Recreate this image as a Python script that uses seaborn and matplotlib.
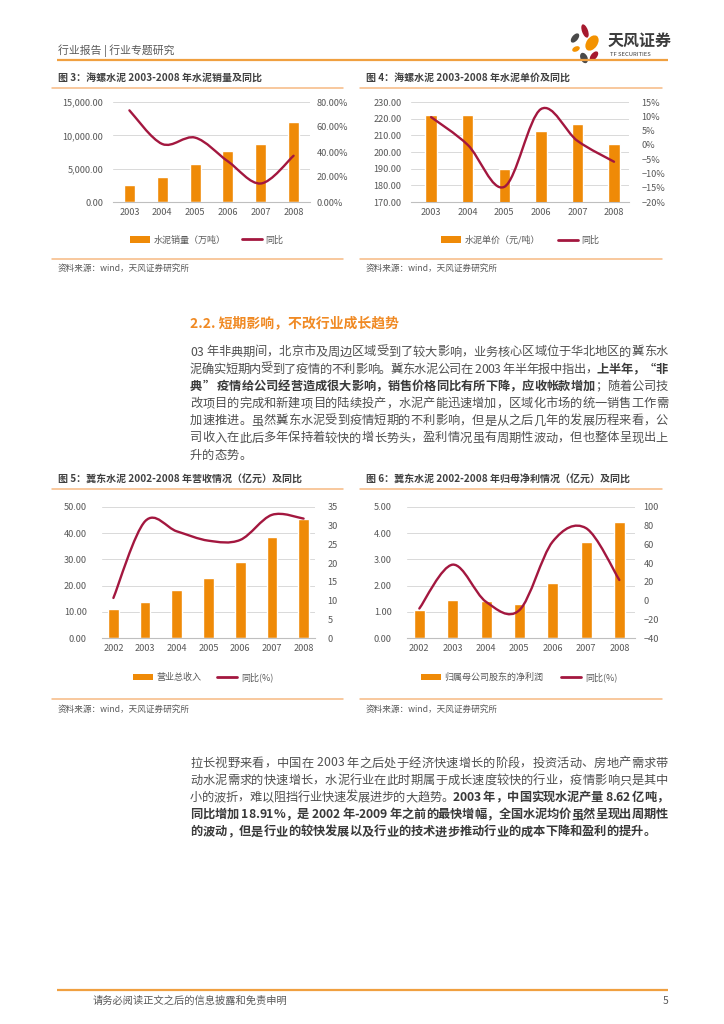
import numpy as np
import matplotlib
matplotlib.use("Agg")
import matplotlib.pyplot as plt
import seaborn as sns
from matplotlib.path import Path
from matplotlib.patches import PathPatch, Patch, Ellipse
from matplotlib.lines import Line2D
from matplotlib.ticker import StrMethodFormatter

# 数据：海螺水泥 2003-2008
conch_years = ["2003", "2004", "2005", "2006", "2007", "2008"]
conch_sales = [2550, 3725, 5765, 7600, 8775, 11990]          # 万吨
conch_sales_yoy = [73.3, 46.4, 51.5, 32.5, 14.8, 37.0]         # %
conch_price = [222.2, 222.2, 190.0, 212.9, 216.9, 204.6]       # 元/吨
conch_price_yoy = [9.7, 0.0, -14.7, 12.5, 1.4, -5.9]           # %

# 数据：冀东水泥 2002-2008
jidong_years = ["2002", "2003", "2004", "2005", "2006", "2007", "2008"]
jidong_revenue = [10.9, 13.9, 18.5, 22.9, 29.0, 38.6, 45.5]    # 亿元
jidong_revenue_yoy = [10.7, 31.2, 28.5, 26.0, 26.2, 32.9, 31.9]
jidong_profit = [1.06, 1.44, 1.42, 1.29, 2.10, 3.67, 4.44]     # 亿元
jidong_profit_yoy = [-8.5, 38.4, -1.3, -10.3, 63.0, 77.4, 22.0]

BAR = "#EF8A07"
LINE = "#A3173F"
RULE = "#F7B983"
TICK = "#595959"

sns.set_theme(style="white")
plt.rcParams["font.family"] = ["Noto Sans CJK SC", "DejaVu Sans"]

W, H = 724, 1024
fig = plt.figure(figsize=(W / 100, H / 100), dpi=100)
page = fig.add_axes([0, 0, 1, 1])
page.set_xlim(0, W)
page.set_ylim(H, 0)
page.axis("off")


def smooth_path(xs, ys):
    # 平滑曲线（类似 Excel 的平滑线）
    pts = np.column_stack([xs, ys]).astype(float)
    n = len(pts)
    verts = [pts[0]]
    codes = [Path.MOVETO]
    for i in range(n - 1):
        p0 = pts[max(i - 1, 0)]
        p1 = pts[i]
        p2 = pts[i + 1]
        p3 = pts[min(i + 2, n - 1)]
        verts += [p1 + (p2 - p0) / 6, p2 - (p3 - p1) / 6, p2]
        codes += [Path.CURVE4] * 3
    return Path(verts, codes)


def draw_chart(box, years, bars, yoy, width, xlim, left, left_fmt, right, right_fmt,
               pads, labels, legend_at, colspace):
    x0, yt, x1, yb = box
    ax = fig.add_axes([x0 / W, 1 - yb / H, (x1 - x0) / W, (yb - yt) / H])
    ax.set_facecolor("none")
    sns.barplot(x=years, y=bars, color=BAR, width=width, saturation=1,
                errorbar=None, ax=ax)
    ax.set_xlabel("")
    ax.set_ylabel("")
    ax.set_ylim(left[0], left[1])
    ax.set_yticks(np.arange(left[0], left[1] + left[2] / 2, left[2]))
    ax.yaxis.set_major_formatter(StrMethodFormatter(left_fmt))
    ax.yaxis.grid(True, color="#D9D9D9", lw=0.7)
    ax.set_axisbelow(True)
    for s in ["top", "left", "right"]:
        ax.spines[s].set_visible(False)
    ax.spines["bottom"].set_color("#BFBFBF")
    ax.spines["bottom"].set_linewidth(0.8)
    ax.tick_params(axis="y", length=0, labelsize=6.6, labelcolor=TICK, pad=pads[0])
    ax.tick_params(axis="x", length=0, labelsize=6.6, labelcolor=TICK, pad=4)

    ax2 = ax.twinx()
    ax2.set_ylim(right[0], right[1])
    ax2.set_yticks(np.arange(right[0], right[1] + right[2] / 2, right[2]))
    ax2.yaxis.set_major_formatter(StrMethodFormatter(right_fmt))
    ax2.grid(False)
    for s in ax2.spines.values():
        s.set_visible(False)
    ax2.tick_params(axis="y", length=0, labelsize=6.6, labelcolor=TICK, pad=pads[1])
    ax2.add_patch(PathPatch(smooth_path(np.arange(len(yoy)), yoy), facecolor="none",
                            edgecolor=LINE, lw=1.7, capstyle="round", joinstyle="round"))
    ax.set_xlim(*xlim)

    handles = [Patch(facecolor=BAR, edgecolor="none"), Line2D([0], [0], color=LINE, lw=2)]
    ax.legend(handles=handles, labels=labels, loc="center", bbox_to_anchor=legend_at,
              bbox_transform=page.transData, ncol=2, frameon=False, fontsize=6.5,
              handlelength=2.2, handletextpad=0.4, columnspacing=colspace,
              labelcolor=TICK)
    return ax


# 页眉
page.text(58, 51, "行业报告 | 行业专题研究", fontsize=7.8, color="#595959", va="center")
page.plot([57, 668], [60, 60], color="#F0A040", lw=1.6, solid_capstyle="butt")
for (cx, cy, w, h, ang, c) in [(585, 31, 6, 14, -20, "#A6192E"), (592, 43, 11, 17, 35, "#F39200"),
                               (575, 38, 6, 11, 40, "#4A4A4A"), (576, 49, 8, 5, -25, "#F39200"),
                               (584, 58, 7, 11, -25, "#4A4A4A"), (594, 56, 6, 11, 40, "#A6192E")]:
    page.add_patch(Ellipse((cx, cy), w, h, angle=ang, color=c, lw=0))
page.text(608, 41, "天风证券", fontsize=11.5, fontweight="bold", color="#3C3C3C", va="center")
page.text(610, 54, "TF SECURITIES", fontsize=4.2, color="#3C3C3C", va="center")

# 图表标题、分隔线、资料来源
titles = [(58, 78, "图 3：海螺水泥 2003-2008 年水泥销量及同比", 52, 343, 88, 259, 268),
          (366, 78, "图 4：海螺水泥 2003-2008 年水泥单价及同比", 360, 662, 88, 259, 268),
          (58, 480, "图 5：冀东水泥 2002-2008 年营收情况（亿元）及同比", 52, 343, 489, 699, 709),
          (366, 480, "图 6：冀东水泥 2002-2008 年归母净利情况（亿元）及同比", 360, 662, 489, 699, 709)]
for tx, ty, title, lx0, lx1, ly_top, ly_bot, sy in titles:
    page.text(tx, ty, title, fontsize=7.2, fontweight="bold", color="#404040", va="center")
    page.plot([lx0, lx1], [ly_top, ly_top], color=RULE, lw=1.1)
    page.plot([lx0, lx1], [ly_bot, ly_bot], color=RULE, lw=1.1)
    page.text(tx, sy, "资料来源：wind，天风证券研究所", fontsize=6.2, color="#595959", va="center")

draw_chart((113, 102, 310, 202), conch_years, conch_sales, conch_sales_yoy, 0.34, (-0.5, 5.5),
           (0, 15000, 5000), "{x:,.2f}", (0, 80, 20), "{x:.2f}%", (7, 5),
           ["水泥销量（万吨）", "同比"], (207, 240), 1.8)
draw_chart((411, 102, 629, 202), conch_years, conch_price, conch_price_yoy, 0.31, (-0.55, 5.41),
           (170, 230, 10), "{x:.2f}", (-20, 15, 5), "{x:.0f}%", (7, 9),
           ["水泥单价（元/吨）", "同比"], (520, 240), 2.0)
draw_chart((102, 507, 315, 638), jidong_years, jidong_revenue, jidong_revenue_yoy, 0.34, (-0.36, 6.36),
           (0, 50, 10), "{x:.2f}", (0, 35, 5), "{x:.0f}", (11, 9),
           ["营业总收入", "同比(%)"], (203, 677), 1.8)
draw_chart((407, 507, 635, 638), jidong_years, jidong_profit, jidong_profit_yoy, 0.33, (-0.37, 6.47),
           (0, 5, 1), "{x:.2f}", (-40, 100, 20), "{x:.0f}", (11, 6),
           ["归属母公司股东的净利润", "同比(%)"], (519, 677), 2.0)

# 正文（两端对齐）
renderer = fig.canvas.get_renderer()
SIZE = 8.8
_adv = {}


def adv_width(ch, weight):
    key = (ch, weight)
    if key not in _adv:
        t1 = page.text(0, 0, "一" + ch + "一", fontsize=SIZE, fontweight=weight)
        t2 = page.text(0, 0, "一一", fontsize=SIZE, fontweight=weight)
        _adv[key] = t1.get_window_extent(renderer).width - t2.get_window_extent(renderer).width
        t1.remove()
        t2.remove()
    return _adv[key]


def draw_line(y, runs, x0=190, x1=668, justify=True):
    chars = [(ch, "bold" if bold else "normal") for s, bold in runs for ch in s]
    widths = [adv_width(ch, wt) for ch, wt in chars]
    gap = (x1 - x0 - sum(widths)) / (len(chars) - 1) if justify else 0
    x = x0
    for (ch, wt), w in zip(chars, widths):
        if ch != " ":
            page.text(x, y, ch, fontsize=SIZE, fontweight=wt,
                      color="#3A3A3A" if wt == "bold" else "#505050", va="center", ha="left")
        x += w + gap


page.text(190, 323, "2.2. 短期影响，不改行业成长趋势", fontsize=10, fontweight="bold",
          color="#F08A24", va="center")

para1 = [
    [("03 年非典期间，北京市及周边区域受到了较大影响，业务核心区域位于华北地区的冀东水", False)],
    [("泥确实短期内受到了疫情的不利影响。冀东水泥公司在 2003 年半年报中指出，", False),
     ("上半年，“非", True)],
    [("典” 疫情给公司经营造成很大影响，销售价格同比有所下降，应收帐款增加", True),
     ("；随着公司技", False)],
    [("改项目的完成和新建项目的陆续投产，水泥产能迅速增加，区域化市场的统一销售工作需", False)],
    [("加速推进。虽然冀东水泥受到疫情短期的不利影响，但是从之后几年的发展历程来看，公", False)],
    [("司收入在此后多年保持着较快的增长势头，盈利情况虽有周期性波动，但也整体呈现出上", False)],
    [("升的态势。", False)],
]
for i, runs in enumerate(para1):
    draw_line(352 + 17.2 * i, runs, justify=i < len(para1) - 1)

para2 = [
    [("拉长视野来看，中国在 2003 年之后处于经济快速增长的阶段，投资活动、房地产需求带", False)],
    [("动水泥需求的快速增长，水泥行业在此时期属于成长速度较快的行业，疫情影响只是其中", False)],
    [("小的波折，难以阻挡行业快速发展进步的大趋势。", False),
     ("2003 年，中国实现水泥产量 8.62 亿吨，", True)],
    [("同比增加 18.91%，是 2002 年-2009 年之前的最快增幅，全国水泥均价虽然呈现出周期性", True)],
    [("的波动，但是行业的较快发展以及行业的技术进步推动行业的成本下降和盈利的提升。", True)],
]
for i, runs in enumerate(para2):
    draw_line(763 + 17.2 * i, runs, justify=i < len(para2) - 1)

# 页脚
page.plot([57, 668], [990, 990], color="#F0A040", lw=1.6, solid_capstyle="butt")
page.text(93, 1001, "请务必阅读正文之后的信息披露和免责申明", fontsize=7.4, color="#595959", va="center")
page.text(668, 1001, "5", fontsize=7.4, color="#595959", va="center", ha="right")

fig.savefig("out.png", dpi=100)
